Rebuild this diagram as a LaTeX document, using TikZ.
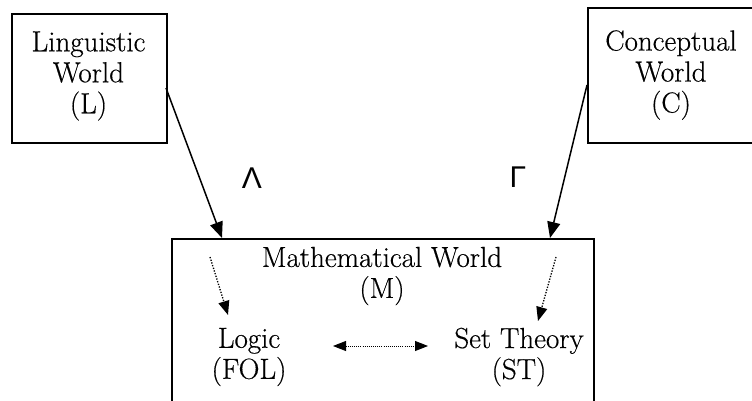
\documentclass[tikz,border=0pt]{standalone}
\usepackage{fontspec}
\newfontfamily\greekfont{Liberation Sans}
\newfontfamily\boxfont{Latin Modern Roman}[FakeBold=0.4]
\usetikzlibrary{arrows.meta}
\begin{document}
\begin{tikzpicture}[x=1pt,y=-1pt,
  box/.style={draw, line width=2.2pt, inner sep=0pt},
  txt/.style={align=center, font=\boxfont\fontsize{29}{31}\selectfont, inner sep=0pt},
  glabel/.style={font=\greekfont\fontsize{30}{30}\selectfont, inner sep=0pt},
  arr/.style={line width=1.5pt, -{Triangle[length=16pt,width=13pt]}},
  dotarr/.style={line width=1.3pt, dash pattern=on 1.3pt off 1.5pt, -{Triangle[length=14pt,width=11pt]}},
  dblarr/.style={line width=0.9pt, dash pattern=on 0.9pt off 1.2pt, {Triangle[length=13pt,width=10pt]}-{Triangle[length=13pt,width=10pt]}}]
\useasboundingbox (0,0) rectangle (752,401);
\clip (0,0) rectangle (752,401);

% boxes
\node[box, anchor=north west, minimum width=155pt, minimum height=129pt] (L) at (11,13) {};
\node[box, anchor=north west, minimum width=200pt, minimum height=135pt] (C) at (587,7) {};
\node[box, anchor=north west, minimum width=422pt, minimum height=200pt] (M) at (171,238) {};

% texts
\node[txt] (Ltxt) at (88.5,76) {Linguistic\\World\\(L)};
\node[txt] (Ctxt) at (671,75) {Conceptual\\World\\(C)};
\node[txt] (Mtxt) at (382,276) {Mathematical World\\(M)};
\node[txt] (logic) at (249,357) {Logic\\(FOL)};
\node[txt] (set) at (519,357) {Set Theory\\(ST)};

\node[glabel] (lam) at (252,178) {Λ};
\node[glabel] (gam) at (518,177) {Γ};

% connector end points
\coordinate (Lout) at (166,88);
\coordinate (Min1) at (222,238);
\coordinate (Cout) at (587,85);
\coordinate (Min2) at (550,238);
\coordinate (d1s) at (210,257);
\coordinate (d1e) at (228,315);
\coordinate (d2s) at (556,257);
\coordinate (d2e) at (538,321);
\coordinate (hA) at (333,346);
\coordinate (hB) at (428,346);

\draw[arr] (Lout) -- (Min1);
\draw[arr] (Cout) -- (Min2);
\draw[dotarr] (d1s) -- (d1e);
\draw[dotarr] (d2s) -- (d2e);
\draw[dblarr] (hA) -- (hB);
\end{tikzpicture}
\end{document}
